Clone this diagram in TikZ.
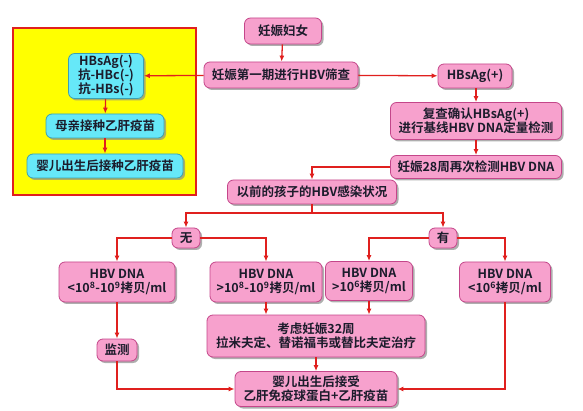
\documentclass[tikz,border=0pt]{standalone}
\usepackage{fontspec}
\setmainfont{Noto Sans CJK SC}[BoldFont=* Bold]
\usepackage{tikz}
\usetikzlibrary{arrows.meta,shadows}
\definecolor{hbvpink}{HTML}{F7A1CD}
\definecolor{hbvpinkline}{HTML}{C4468A}
\definecolor{hbvcyan}{HTML}{66E8F8}
\definecolor{hbvcyanline}{HTML}{3AA0B4}
\definecolor{hbvred}{HTML}{E0201E}
\definecolor{hbvyellow}{HTML}{FFFF00}
\definecolor{hbvtext}{HTML}{1C1C2C}
\tikzset{
  pinkbox/.style={rectangle,rounded corners=6pt,draw=hbvpinkline,line width=0.8pt,fill=hbvpink,align=center,
    font=\fontsize{12.5}{14}\selectfont\bfseries,text=hbvtext,inner xsep=4pt,inner ysep=2pt,
    drop shadow={shadow xshift=2pt,shadow yshift=-2pt,fill=black!45,opacity=0.7}},
  cyanbox/.style={pinkbox,draw=hbvcyanline,fill=hbvcyan},
  link/.style={-{Latex[length=6pt,width=5pt]},line width=1.3pt,draw=hbvred},
  plainlink/.style={line width=1.3pt,draw=hbvred}
}
\begin{document}
\begin{tikzpicture}[x=1pt,y=-1pt]
\useasboundingbox (0,0) rectangle (583,411);
% left panel
\draw[hbvred,line width=1.2pt,fill=hbvyellow] (13,28) rectangle (196,195);
\node[cyanbox,minimum width=75pt,minimum height=44pt] (neg) at (106,76) {HBsAg(-)\\抗-HBc(-)\\抗-HBs(-)};
\node[cyanbox,minimum width=118pt,minimum height=24pt] (mom) at (105,126) {母亲接种乙肝疫苗};
\node[cyanbox,minimum width=156pt,minimum height=24pt] (baby) at (105,166) {婴儿出生后接种乙肝疫苗};
% main column
\node[pinkbox,minimum width=77pt,minimum height=26pt] (woman) at (283,31) {妊娠妇女};
\node[pinkbox,minimum width=154pt,minimum height=26pt] (screen) at (281,75) {妊娠第一期进行HBV筛查};
\node[pinkbox,minimum width=74pt,minimum height=24pt] (pos) at (475,76) {HBsAg(+)};
\node[pinkbox,minimum width=171pt,minimum height=37pt] (recheck) at (476,121) {复查确认HBsAg(+)\\进行基线HBV DNA定量检测};
\node[pinkbox,minimum width=171pt,minimum height=23pt] (week28) at (476,167) {妊娠28周再次检测HBV DNA};
\node[pinkbox,minimum width=169pt,minimum height=24pt] (history) at (312,192) {以前的孩子的HBV感染状况};
% branches
\node[pinkbox,minimum width=28pt,minimum height=20pt,inner xsep=2pt] (none) at (186,238) {无};
\node[pinkbox,minimum width=28pt,minimum height=20pt,inner xsep=2pt] (have) at (443,238) {有};
\node[pinkbox,minimum width=116pt,minimum height=40pt] (lowA) at (117,282) {HBV DNA\\<10\textsuperscript{8}-10\textsuperscript{9}拷贝/ml};
\node[pinkbox,minimum width=112pt,minimum height=40pt] (highA) at (266,282) {HBV DNA\\>10\textsuperscript{8}-10\textsuperscript{9}拷贝/ml};
\node[pinkbox,minimum width=87pt,minimum height=39pt] (highB) at (369,281) {HBV DNA\\>10\textsuperscript{6}拷贝/ml};
\node[pinkbox,minimum width=91pt,minimum height=40pt] (lowB) at (505,282) {HBV DNA\\<10\textsuperscript{6}拷贝/ml};
\node[pinkbox,minimum width=218pt,minimum height=42pt] (treat) at (316,336) {考虑妊娠32周\\拉米夫定、替诺福韦或替比夫定治疗};
\node[pinkbox,minimum width=40pt,minimum height=22pt] (monitor) at (117,350) {监测};
\node[pinkbox,minimum width=162pt,minimum height=35pt] (final) at (316,389) {婴儿出生后接受\\乙肝免疫球蛋白+乙肝疫苗};
\coordinate (split) at (312,213);
% connectors
\draw[link] (woman) -- (screen);
\draw[link] (screen) -- (neg);
\draw[link] (screen) -- (pos);
\draw[link] (neg) -- (mom);
\draw[link] (mom) -- (baby);
\draw[link] (pos.south -| recheck.north) -- (recheck);
\draw[link] (recheck) -- (week28);
\draw[link] (week28.west) -| (history.north);
\draw[plainlink] (history.south) -- (split);
\draw[link] (split) -| (none.north);
\draw[link] (split) -| (have.north);
\draw[link] (none.west) -| (lowA.north);
\draw[link] (none.east) -| (highA.north);
\draw[link] (have.west) -| (highB.north);
\draw[link] (have.east) -| (lowB.north);
\draw[link] (highA.south) -- (highA.south |- treat.north);
\draw[link] (highB.south) -- (highB.south |- treat.north);
\draw[link] (lowA) -- (monitor);
\draw[link] (monitor.south) |- (final.west);
\draw[link] (lowB.south) |- (final.east);
\draw[link] (treat) -- (final);
\end{tikzpicture}
\end{document}
